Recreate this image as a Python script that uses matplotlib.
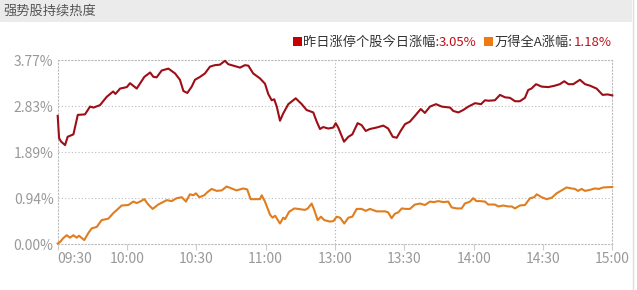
import matplotlib
matplotlib.use('Agg')
import matplotlib.pyplot as plt
from matplotlib.patches import Rectangle
import numpy as np

plt.rcParams['font.family'] = ['Noto Sans CJK SC', 'DejaVu Sans']

# minutes since 09:30 (trading time, 11:30 and 13:00 joined at 120)
red_t = [0, 0.6, 1.5, 3.2, 4.3, 6.8, 8.7, 11.8, 14, 15.5, 18.3, 21.2, 24, 25, 27, 29.9,
         31.3, 34.2, 37.5, 40, 41.4, 42.8, 45, 47.9, 50.8, 52.9, 54.4, 56.1, 58, 59.4,
         61.6, 63.7, 65.9, 68, 70.2, 72.4, 73.8, 76, 78.9, 81, 82.5, 84.6, 87.5, 89.7,
         91.1, 92.6, 93.7, 94.8, 96.2, 97.6, 99.8, 103, 105.6, 107.7, 110.6, 112.1,
         113.5, 114.9, 117.1, 119.3, 120.3, 121.4, 123.9, 125.8, 127.5, 129.8, 131.5,
         133.3, 135.1, 138, 140.9, 143, 145, 146.7, 148.4, 150.3, 152.4, 154.6, 157.1,
         158.9, 161.1, 163.7, 166.2, 169.8, 171.2, 173.4, 175.5, 177.7, 180.6, 183.2,
         184.9, 186.4, 189.2, 191.4, 193.6, 195.7, 197.9, 200, 202.2, 203.6, 205, 207,
         209.4, 212.3, 215.2, 217.3, 219.2, 221, 223.1, 226, 228.2, 230.3, 233.2, 235.8,
         238, 240]
red_v = [2.63, 2.17, 2.10, 2.03, 2.20, 2.25, 2.65, 2.66, 2.82, 2.80, 2.85, 3.02, 3.13,
         3.08, 3.19, 3.22, 3.30, 3.19, 3.43, 3.52, 3.43, 3.42, 3.56, 3.60, 3.50, 3.37,
         3.14, 3.10, 3.23, 3.37, 3.43, 3.50, 3.64, 3.67, 3.68, 3.76, 3.69, 3.66, 3.62,
         3.67, 3.66, 3.50, 3.40, 3.29, 3.08, 2.95, 2.97, 2.82, 2.53, 2.68, 2.87, 2.99,
         2.87, 2.75, 2.70, 2.51, 2.36, 2.40, 2.37, 2.39, 2.48, 2.39, 2.10, 2.20, 2.25,
         2.48, 2.44, 2.32, 2.36, 2.39, 2.43, 2.37, 2.20, 2.18, 2.32, 2.46, 2.51, 2.63,
         2.77, 2.69, 2.82, 2.87, 2.82, 2.80, 2.73, 2.70, 2.75, 2.82, 2.89, 2.87, 2.95,
         2.94, 2.95, 3.06, 3.01, 3.00, 2.93, 2.93, 3.00, 3.16, 3.19, 3.28, 3.23, 3.22,
         3.25, 3.28, 3.34, 3.28, 3.28, 3.37, 3.28, 3.25, 3.19, 3.06, 3.07, 3.05]

orange_t = [0, 1, 2.4, 3.9, 5.3, 6.8, 8.2, 9.2, 11.5, 13.2, 14.7, 16.9, 19, 21.9, 24,
            27.7, 30.6, 32.7, 34.2, 35.6, 37.5, 39.2, 41.1, 43.5, 46.4, 47.2, 49.3, 51.5,
            53.7, 55.5, 57.2, 58.7, 59.8, 61.3, 63.4, 64.7, 66.6, 68.8, 71, 73.1, 75.3,
            77.4, 80.3, 82, 83.5, 85.5, 87.5, 88.3, 89.7, 91.9, 93, 94.1, 96.2, 97.6,
            98.4, 100.1, 102.4, 104.1, 107, 108.2, 109.9, 111, 112.5, 113.9, 115.4, 117.8,
            119.3, 120.7, 122.2, 124, 125.8, 127.5, 129.4, 131.5, 133.3, 135.1, 138, 141.6,
            143, 144.5, 145.9, 147.4, 148.9, 150.7, 152.4, 154.6, 156.8, 158.9, 161.1,
            162.8, 164.7, 166.9, 169, 170.5, 172.7, 174.8, 176.2, 178.4, 179.8, 181.2,
            182.8, 184.9, 186.3, 189.2, 190.7, 192.8, 195, 196.5, 197.9, 200, 202.2,
            204.4, 206.2, 207.3, 209.4, 211.6, 213.8, 215.9, 218.4, 220.2, 222.4, 223.8,
            225.2, 226.7, 228.2, 230.3, 232.4, 234.2, 236, 240]
orange_v = [0.01, 0.04, 0.12, 0.18, 0.13, 0.18, 0.13, 0.17, 0.08, 0.22, 0.32, 0.35, 0.49,
            0.52, 0.63, 0.79, 0.80, 0.87, 0.84, 0.87, 0.92, 0.81, 0.72, 0.81, 0.88, 0.90,
            0.88, 0.94, 0.96, 0.87, 1.02, 1.00, 1.04, 0.96, 1.00, 1.06, 1.13, 1.09, 1.10,
            1.18, 1.14, 1.10, 1.14, 1.12, 0.92, 0.92, 0.92, 1.00, 0.87, 0.60, 0.54, 0.58,
            0.42, 0.54, 0.51, 0.66, 0.73, 0.72, 0.70, 0.73, 0.83, 0.70, 0.49, 0.56, 0.49,
            0.46, 0.47, 0.56, 0.54, 0.42, 0.54, 0.56, 0.72, 0.72, 0.68, 0.72, 0.67, 0.67,
            0.65, 0.53, 0.62, 0.65, 0.73, 0.72, 0.72, 0.81, 0.83, 0.80, 0.87, 0.86, 0.88,
            0.86, 0.87, 0.75, 0.73, 0.73, 0.83, 0.87, 0.94, 0.88, 0.88, 0.87, 0.81, 0.81,
            0.77, 0.79, 0.77, 0.77, 0.73, 0.79, 0.80, 0.94, 0.96, 1.02, 0.96, 0.92, 0.95,
            1.04, 1.11, 1.16, 1.14, 1.13, 1.09, 1.13, 1.09, 1.11, 1.14, 1.13, 1.16, 1.17]

x_ticks = [0, 30, 60, 90, 120, 150, 180, 210, 240]
x_labels = ['09:30', '10:00', '10:30', '11:00', '13:00', '13:30', '14:00', '14:30', '15:00']
y_top = 3.77
y_labels = ['0.00%', '0.94%', '1.89%', '2.83%', '3.77%']

title = '强势股持续热度'
red_name = '昨日涨停个股今日涨幅:'
red_last = '3.05%'
orange_name = '万得全A涨幅:'
orange_last = '1.18%'

W, H = 637, 290
fig = plt.figure(figsize=(W / 100, H / 100), dpi=100)

# title bar
fig.patches.append(Rectangle((0, 1 - 22 / H), 632 / W, 22 / H, transform=fig.transFigure,
                             facecolor='#ebebeb', edgecolor='none', zorder=0))
fig.text(3 / W, 1 - 11 / H, title, fontsize=9.5, color='#555555', va='center', ha='left')
fig.lines.append(plt.Line2D([632.5 / W, 632.5 / W], [0, 1], transform=fig.transFigure,
                            color='#dddddd', lw=1))

ax = fig.add_axes([57.7 / W, 1 - 244 / H, (612.3 - 57.7) / W, (244 - 60.3) / H])
ax.plot(red_t, red_v, color='#9e0e16', lw=1.5, clip_on=False, zorder=3)
ax.plot(orange_t, orange_v, color='#e07d1e', lw=1.5, clip_on=False, zorder=3)

ax.set_xlim(0, 240)
ax.set_ylim(0, y_top)
ax.set_yticks(np.linspace(0, y_top, 5))
ax.set_yticklabels(y_labels)
ax.set_xticks(x_ticks)
ax.set_xticklabels(x_labels)
ax.get_xticklabels()[0].set_ha('left')

dot = (0, (1, 2))
for y in np.linspace(0, y_top, 5)[1:-1]:
    ax.axhline(y, color='#bbbbbb', lw=0.8, ls=dot, zorder=1)
ax.axvline(120, color='#aaaaaa', lw=0.8, ls=dot, zorder=1)
for s in ax.spines.values():
    s.set_color('#bbbbbb')
    s.set_linewidth(0.8)
    s.set_linestyle(dot)

ax.tick_params(axis='y', length=0, pad=3, labelsize=10, labelcolor='#999999')
ax.tick_params(axis='x', length=4, width=0.8, color='#cccccc', pad=2, labelsize=10,
               labelcolor='#999999')

# legend
fig.patches.append(Rectangle((292.5 / W, 1 - 46 / H), 9 / W, 9 / H, transform=fig.transFigure,
                             facecolor='#c40000', edgecolor='none'))
fig.patches.append(Rectangle((484 / W, 1 - 46 / H), 9 / W, 9 / H, transform=fig.transFigure,
                             facecolor='#f07a10', edgecolor='none'))
ly = 1 - 42 / H
t1 = fig.text(303 / W, ly, red_name, fontsize=9.5, color='#333333', va='center')
fig.text(439 / W, ly, red_last, fontsize=9.5, color='#c0101a', va='center')
fig.text(494.5 / W, ly, orange_name, fontsize=9.5, color='#333333', va='center')
fig.text(574 / W, ly, orange_last, fontsize=9.5, color='#c0101a', va='center')

fig.savefig('out.png', dpi=100)
